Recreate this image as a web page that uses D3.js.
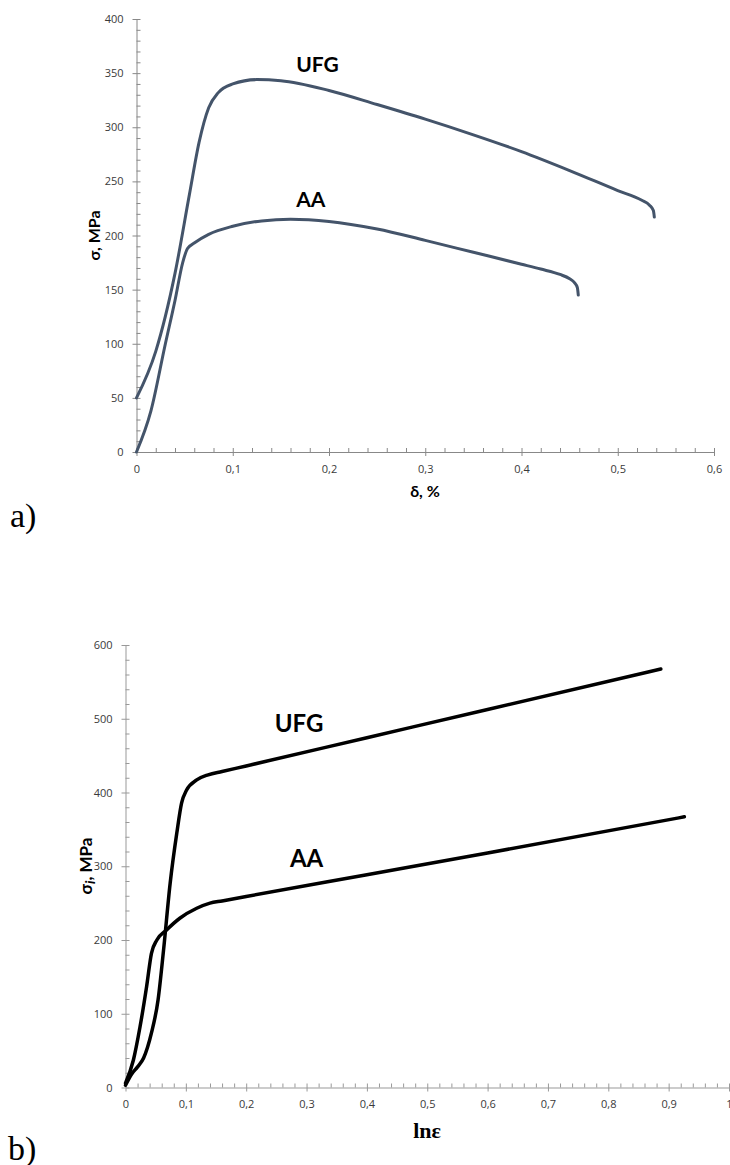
<!DOCTYPE html>
<html>
<head>
<meta charset="utf-8">
<script src="https://cdn.jsdelivr.net/npm/d3@7/dist/d3.min.js"></script>
<style>
  body { margin: 0; background: #fff; }
  svg { display: block; }
  .tick text { font-family: "Open Sans", sans-serif; font-size: 11px; fill: #3a3a3a; }
</style>
</head>
<body>
<svg id="chart" width="730" height="1165"></svg>
<script>
// ---- data: chart a) engineering stress-strain
const topUfgX = [0, 0.02, 0.04, 0.055, 0.065, 0.075, 0.085, 0.1, 0.125, 0.15, 0.2, 0.25, 0.3, 0.35, 0.4, 0.45, 0.5, 0.525, 0.533, 0.537, 0.538];
const topUfgY = [50, 93, 165, 238, 286, 318, 332, 340, 344, 343, 334, 321, 307.5, 293, 277.5, 260, 241.5, 232.5, 228, 223, 217];
const topAaX = [0, 0.015, 0.03, 0.04, 0.048, 0.053, 0.06, 0.075, 0.1, 0.13, 0.16, 0.2, 0.25, 0.3, 0.35, 0.4, 0.42, 0.44, 0.45, 0.455, 0.458, 0.459];
const topAaY = [0, 38, 100, 140, 175, 188, 193, 201, 208.5, 213.5, 215, 213, 206, 195.5, 184.5, 173.5, 169, 164, 160, 156.5, 152, 145];
const topXTicks = [0, 0.1, 0.2, 0.3, 0.4, 0.5, 0.6];
const topYTicks = [0, 50, 100, 150, 200, 250, 300, 350, 400];

// ---- data: chart b) true stress vs ln strain
const botUfgX = [0, 0.01, 0.02, 0.03, 0.043, 0.054, 0.063, 0.074, 0.085, 0.093, 0.101, 0.118, 0.137, 0.16, 0.2, 0.4, 0.6, 0.887];
const botUfgY = [3, 18, 28, 40, 74, 119, 186, 277, 345, 386, 403, 417, 424, 428.4, 436, 474.3, 512.6, 567.5];
const botAaX = [0, 0.013, 0.024, 0.035, 0.043, 0.052, 0.068, 0.09, 0.118, 0.14, 0.16, 0.2, 0.4, 0.6, 0.926];
const botAaY = [6, 37, 82, 137, 182, 200, 213.6, 229.5, 243, 250, 253, 259, 288.5, 318, 367];
const botXTicks = [0, 0.1, 0.2, 0.3, 0.4, 0.5, 0.6, 0.7, 0.8, 0.9, 1];
const botYTicks = [0, 100, 200, 300, 400, 500, 600];

const svg = d3.select("#chart");
const comma = d => String(d).replace(".", ",");

function zip(xs, ys) {
  return xs.map((v, i) => [v, ys[i]]);
}

function drawPanel(opt) {
  const { x, y, xTicks, yTicks, xMinor, yMinor, axisColor } = opt;
  const g = svg.append("g");

  // minor ticks (inside)
  g.append("g")
    .attr("transform", `translate(0,${y.range()[0]})`)
    .call(d3.axisTop(x).tickValues(xMinor).tickSize(4).tickFormat(""))
    .call(a => a.select(".domain").remove())
    .selectAll("line").attr("stroke", axisColor);
  g.append("g")
    .attr("transform", `translate(${x.range()[0]},0)`)
    .call(d3.axisRight(y).tickValues(yMinor).tickSize(4).tickFormat(""))
    .call(a => a.select(".domain").remove())
    .selectAll("line").attr("stroke", axisColor);

  // major axes
  const xa = g.append("g")
    .attr("transform", `translate(0,${y.range()[0]})`)
    .call(d3.axisBottom(x).tickValues(xTicks).tickSize(4).tickSizeOuter(0).tickPadding(9).tickFormat(comma));
  xa.selectAll(".tick line").attr("y1", -4).attr("stroke", axisColor);
  xa.select(".domain").attr("stroke", axisColor);

  const ya = g.append("g")
    .attr("transform", `translate(${x.range()[0]},0)`)
    .call(d3.axisLeft(y).tickValues(yTicks).tickSize(4).tickSizeOuter(0).tickPadding(9));
  ya.selectAll(".tick line").attr("x1", 4).attr("stroke", axisColor);
  ya.select(".domain").attr("stroke", axisColor);
  return g;
}

// ================= chart a)
const xTop = d3.scaleLinear().domain([0, 0.6]).range([136.5, 714]);
const yTop = d3.scaleLinear().domain([0, 400]).range([452, 19]);

const gTop = drawPanel({
  x: xTop, y: yTop, xTicks: topXTicks, yTicks: topYTicks,
  xMinor: d3.range(0, 31).map(i => i * 0.02).filter((v, i) => i % 5 !== 0),
  yMinor: d3.range(0, 41).map(i => i * 10).filter((v, i) => i % 5 !== 0),
  axisColor: "#888"
});

const lineTop = d3.line().x(d => xTop(d[0])).y(d => yTop(d[1])).curve(d3.curveMonotoneX);
[zip(topUfgX, topUfgY), zip(topAaX, topAaY)].forEach(s => {
  gTop.append("path").attr("d", lineTop(s))
    .attr("fill", "none").attr("stroke", "#44546A").attr("stroke-width", 3)
    .attr("stroke-linecap", "round").attr("stroke-linejoin", "round");
});

gTop.append("text").attr("x", xTop(0.188)).attr("y", yTop(351))
  .attr("text-anchor", "middle").attr("font-family", "Lato, sans-serif").attr("font-weight", "bold")
  .attr("font-size", 21).text("UFG");
gTop.append("text").attr("x", xTop(0.181)).attr("y", yTop(226.6))
  .attr("text-anchor", "middle").attr("font-family", "Lato, sans-serif").attr("font-weight", "bold")
  .attr("font-size", 21).text("AA");

gTop.append("text").attr("x", 425).attr("y", 497)
  .attr("text-anchor", "middle").attr("font-family", "Lato, sans-serif").attr("font-weight", "bold")
  .attr("font-size", 16).text("δ, %");
gTop.append("text").attr("transform", "translate(100,235.5) rotate(-90)")
  .attr("text-anchor", "middle").attr("font-family", "Lato, sans-serif").attr("font-weight", "bold")
  .attr("font-size", 16).text("σ, MPa");

svg.append("text").attr("x", 10).attr("y", 527)
  .attr("font-family", "Liberation Serif, serif").attr("font-size", 34).text("a)");

// ================= chart b)
const xBot = d3.scaleLinear().domain([0, 1]).range([125.5, 729]);
const yBot = d3.scaleLinear().domain([0, 600]).range([1087.5, 645]);

const gBot = drawPanel({
  x: xBot, y: yBot, xTicks: botXTicks, yTicks: botYTicks,
  xMinor: d3.range(0, 51).map(i => i * 0.02).filter((v, i) => i % 5 !== 0),
  yMinor: d3.range(0, 31).map(i => i * 20).filter((v, i) => i % 5 !== 0),
  axisColor: "#999"
});

const lineBot = d3.line().x(d => xBot(d[0])).y(d => yBot(d[1])).curve(d3.curveMonotoneX);
[zip(botUfgX, botUfgY), zip(botAaX, botAaY)].forEach(s => {
  gBot.append("path").attr("d", lineBot(s))
    .attr("fill", "none").attr("stroke", "#000").attr("stroke-width", 3.5)
    .attr("stroke-linecap", "round").attr("stroke-linejoin", "round");
});

gBot.append("text").attr("x", xBot(0.2875)).attr("y", yBot(482))
  .attr("text-anchor", "middle").attr("font-family", "Lato, sans-serif").attr("font-weight", "bold")
  .attr("font-size", 24).text("UFG");
gBot.append("text").attr("x", xBot(0.30)).attr("y", yBot(299))
  .attr("text-anchor", "middle").attr("font-family", "Lato, sans-serif").attr("font-weight", "bold")
  .attr("font-size", 24).text("AA");

gBot.append("text").attr("x", 427).attr("y", 1138)
  .attr("text-anchor", "middle").attr("font-family", "Liberation Serif, serif").attr("font-weight", "bold")
  .attr("font-size", 22).text("lnε");
const yl = gBot.append("text").attr("transform", "translate(92,866) rotate(-90)")
  .attr("text-anchor", "middle").attr("font-family", "Lato, sans-serif").attr("font-weight", "bold")
  .attr("font-size", 17);
yl.append("tspan").text("σ");
yl.append("tspan").attr("font-style", "italic").attr("font-size", 14).attr("dy", 3).text("i");
yl.append("tspan").attr("dy", -3).text(", MPa");

svg.append("text").attr("x", 8).attr("y", 1160)
  .attr("font-family", "Liberation Serif, serif").attr("font-size", 34).text("b)");
</script>
</body>
</html>
